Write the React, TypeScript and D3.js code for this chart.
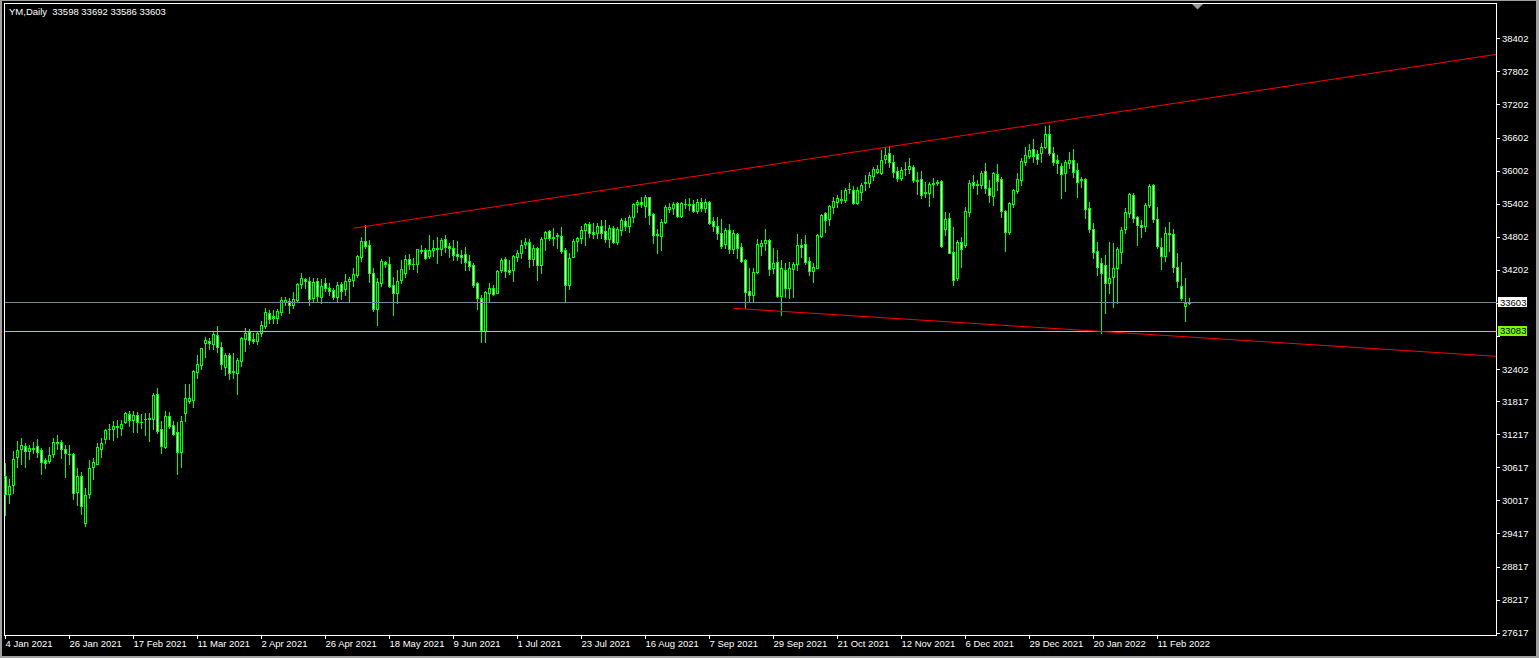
import { useEffect, useRef } from 'react';
import * as d3 from "d3";

// YM daily candles, 4 Jan 2021 .. 22 Feb 2022
const opens = [
    30465, 30128, 30297, 30799, 30944, 30999, 30919, 30950, 30999, 30926,
    30750, 30738, 30854, 31077, 31071, 30944, 30859, 30859, 30175, 30460,
    29613, 30128, 30618, 30678, 30950, 31126, 31313, 31318, 31349, 31336,
    31445, 31585, 31476, 31567, 31440, 31500, 31494, 31489, 31948, 31307,
    30992, 31548, 31385, 31253, 30896, 31600, 31827, 31845, 32353, 32474,
    32878, 32910, 32855, 33019, 32795, 32444, 32655, 32365, 32335, 32552,
    32951, 33067, 32940, 32915, 33049, 33181, 33412, 33363, 33333, 33441,
    33623, 33635, 33562, 33654, 33938, 34029, 33993, 33695, 33993, 33714,
    33956, 33877, 33835, 33714, 33938, 33847, 33993, 34016, 34107, 34440,
    34719, 34652, 34138, 33485, 33956, 34343, 34301, 33926, 33775, 34016,
    34138, 34392, 34301, 34301, 34543, 34555, 34452, 34561, 34579, 34573,
    34755, 34628, 34591, 34483, 34464, 34483, 34361, 34289, 33956, 33695,
    33091, 33775, 33866, 33775, 34198, 34392, 34198, 34198, 34440, 34500,
    34664, 34700, 34392, 34591, 34283, 34773, 34906, 34791, 34815, 34821,
    34561, 33926, 34428, 34730, 34773, 34924, 35032, 34882, 34875, 34990,
    34900, 34755, 34954, 34700, 34924, 35093, 34990, 35165, 35390, 35432,
    35359, 35517, 35214, 34846, 34820, 35063, 35310, 35329, 35408, 35183,
    35395, 35390, 35390, 35274, 35432, 35323, 35426, 35087, 35002, 34864,
    34664, 34924, 34585, 34846, 34610, 34379, 33817, 33744, 34156, 34639,
    34693, 34742, 34240, 34338, 33732, 34198, 33877, 34211, 34301, 34652,
    34664, 34361, 34185, 34240, 34820, 35227, 35118, 35347, 35437, 35481,
    35468, 35668, 35650, 35419, 35619, 35782, 35782, 35909, 35982, 35963,
    36206, 36315, 36163, 35994, 35862, 36036, 36025, 36072, 35831, 35843,
    35613, 35600, 35758, 35776, 35813, 34936, 35136, 34530, 34058, 34700,
    34652, 35256, 35795, 35753, 35740, 36000, 35680, 35546, 35934, 35849,
    35269, 34893, 35390, 35631, 35831, 36163, 36266, 36388, 36297, 36315,
    36424, 36660, 36315, 36194, 36085, 35952, 36134, 36194, 36012, 35854,
    35843, 35317, 34936, 34548, 34330, 34289, 33956, 34077, 34228, 34530,
    34936, 35227, 35554, 35154, 35014, 35002, 35377, 35740, 35118, 34621,
    34458, 34875, 34846, 34247, 33908, 33550, 33598,
];
const highs = [
    30701, 30400, 30914, 31095, 31150, 31053, 31023, 31071, 31126, 30963,
    30792, 30981, 31155, 31208, 31113, 31028, 31028, 30883, 30600, 30538,
    30237, 30750, 30792, 31064, 31155, 31318, 31398, 31458, 31476, 31476,
    31627, 31633, 31634, 31621, 31585, 31609, 31597, 31967, 32050, 31458,
    31639, 31627, 31458, 31445, 31548, 32123, 32129, 32383, 32655, 32788,
    32987, 32958, 33078, 33181, 32896, 32698, 32686, 32686, 32596, 32987,
    33151, 33122, 33049, 33078, 33272, 33503, 33472, 33472, 33485, 33713,
    33713, 33684, 33804, 33967, 34138, 34058, 34065, 34047, 34047, 34034,
    34047, 33956, 33877, 33986, 33986, 34125, 34065, 34228, 34470, 34791,
    35014, 34742, 34228, 34047, 34392, 34367, 34440, 34077, 34198, 34379,
    34470, 34483, 34422, 34588, 34652, 34603, 34833, 34751, 34802, 34772,
    34833, 34682, 34742, 34730, 34561, 34621, 34470, 34319, 33986, 33744,
    33823, 33956, 33926, 34198, 34410, 34440, 34379, 34470, 34561, 34742,
    34773, 34755, 34652, 34621, 34802, 34911, 34924, 34954, 34875, 34984,
    34591, 34501, 34755, 34802, 34996, 35057, 35075, 35045, 35045, 35105,
    35105, 35014, 34996, 34972, 35136, 35136, 35196, 35408, 35468, 35528,
    35559, 35528, 35238, 34936, 35117, 35377, 35419, 35437, 35437, 35437,
    35486, 35499, 35468, 35480, 35499, 35492, 35450, 35165, 35165, 35117,
    34954, 35033, 34924, 34864, 34682, 34397, 34228, 34228, 34760, 34742,
    34936, 34755, 34602, 34561, 34379, 34330, 34349, 34349, 34851, 34755,
    34833, 34440, 34319, 34846, 35214, 35256, 35377, 35528, 35559, 35650,
    35680, 35782, 35722, 35709, 35782, 35921, 35982, 36072, 36103, 36375,
    36435, 36424, 36285, 36061, 36061, 36163, 36225, 36103, 35982, 35994,
    35800, 35800, 35861, 35831, 35831, 35256, 35227, 34972, 34742, 34802,
    35347, 35831, 35921, 35831, 35994, 36134, 35831, 35981, 36121, 35891,
    35287, 35437, 35667, 35952, 36225, 36424, 36479, 36575, 36375, 36508,
    36816, 36829, 36435, 36285, 36134, 36194, 36344, 36393, 36134, 35891,
    35873, 35426, 35045, 34712, 34410, 34470, 34712, 34682, 34621, 34984,
    35317, 35600, 35590, 35178, 35105, 35408, 35758, 35758, 35347, 34773,
    34972, 35075, 34936, 34501, 34349, 34047, 33692,
];
const lows = [
    29752, 29976, 30157, 30629, 30678, 30629, 30774, 30872, 30810, 30496,
    30611, 30701, 30799, 30944, 30792, 30447, 30672, 30043, 29934, 29765,
    29553, 30066, 30406, 30678, 30810, 31053, 31126, 31113, 31173, 31209,
    31427, 31367, 31264, 31253, 31331, 31198, 31101, 31318, 31235, 30872,
    30963, 31325, 31204, 30502, 30629, 31450, 31790, 31718, 32232, 32396,
    32625, 32764, 32764, 32715, 32396, 32299, 32220, 32233, 31948, 32456,
    32733, 32855, 32868, 32850, 33006, 33140, 33231, 33231, 33231, 33381,
    33562, 33423, 33503, 33623, 33866, 33866, 33562, 33611, 33611, 33605,
    33817, 33744, 33666, 33623, 33672, 33744, 33635, 33908, 34076, 34361,
    34602, 33980, 33454, 33200, 33913, 34258, 33884, 33381, 33594, 33956,
    34076, 34216, 34216, 34167, 34513, 34397, 34420, 34458, 34319, 34470,
    34530, 34428, 34379, 34379, 34319, 34198, 34198, 33884, 33490, 32887,
    32896, 33623, 33744, 33775, 34167, 34065, 34125, 33998, 34367, 34410,
    34591, 34258, 34289, 34016, 34138, 34561, 34742, 34652, 34591, 34512,
    33623, 33847, 34428, 34549, 34693, 34652, 34791, 34773, 34773, 34773,
    34712, 34609, 34682, 34664, 34833, 34924, 34893, 35075, 35256, 35347,
    35154, 35033, 34682, 34501, 34561, 35045, 35256, 35214, 35154, 35154,
    35318, 35287, 35245, 35227, 35274, 35256, 35033, 34911, 34760, 34591,
    34591, 34512, 34501, 34410, 34349, 33503, 33611, 33611, 34138, 34470,
    34561, 34107, 34138, 33713, 33381, 33713, 33684, 33702, 34198, 34440,
    34301, 34107, 33986, 34228, 34802, 34893, 35014, 35227, 35347, 35408,
    35438, 35590, 35396, 35396, 35468, 35650, 35710, 35831, 35952, 35940,
    36145, 36061, 35891, 35818, 35831, 35921, 35952, 35800, 35577, 35499,
    35528, 35359, 35517, 35740, 34610, 34833, 34501, 33926, 34016, 34247,
    34621, 35178, 35680, 35577, 35680, 35590, 35437, 35377, 35650, 35165,
    34548, 34851, 35347, 35600, 35740, 36103, 36225, 36163, 36121, 36163,
    36406, 36285, 36103, 35952, 35510, 35631, 36043, 35891, 35517, 35710,
    35136, 34893, 34410, 34107, 33050, 33423, 33775, 33527, 33600, 34319,
    34875, 35165, 35075, 34652, 34802, 34911, 35347, 35075, 34591, 34211,
    34367, 34548, 34167, 33895, 33654, 33278, 33586,
];
const closes = [
    30133, 30279, 30763, 30926, 31017, 30908, 30963, 30968, 30896, 30709,
    30690, 30841, 31071, 31059, 30944, 30872, 30854, 30157, 30460, 29921,
    30115, 30600, 30709, 30981, 31053, 31295, 31320, 31367, 31367, 31404,
    31597, 31476, 31567, 31445, 31434, 31489, 31512, 31936, 31282, 31004,
    31548, 31372, 31228, 30896, 31458, 31870, 31881, 32365, 32486, 32777,
    32928, 32868, 33037, 32795, 32498, 32655, 32335, 32342, 32565, 32958,
    33049, 32928, 32915, 33049, 33200, 33430, 33309, 33333, 33454, 33654,
    33654, 33562, 33672, 33944, 34047, 33993, 33672, 33975, 33721, 33902,
    33871, 33811, 33714, 33920, 33817, 33993, 34034, 34120, 34452, 34719,
    34639, 34138, 33485, 33975, 34361, 34301, 33908, 33786, 34004, 34211,
    34392, 34301, 34310, 34574, 34561, 34420, 34561, 34603, 34591, 34742,
    34609, 34591, 34470, 34458, 34440, 34349, 34276, 33926, 33695, 33109,
    33793, 33866, 33762, 34180, 34379, 34185, 34167, 34452, 34512, 34652,
    34712, 34392, 34591, 34283, 34760, 34882, 34773, 34773, 34839, 34549,
    33926, 34422, 34730, 34779, 34924, 35027, 34864, 34846, 34996, 34864,
    34755, 34960, 34712, 34936, 35105, 34990, 35154, 35390, 35437, 35401,
    35517, 35201, 34838, 34833, 35063, 35336, 35341, 35395, 35183, 35408,
    35390, 35383, 35269, 35432, 35329, 35432, 35056, 34990, 34864, 34639,
    34924, 34585, 34864, 34603, 34367, 33804, 33744, 34156, 34664, 34688,
    34742, 34210, 34320, 33732, 34228, 33877, 34228, 34307, 34652, 34621,
    34349, 34180, 34258, 34833, 35196, 35105, 35359, 35450, 35510, 35468,
    35650, 35673, 35419, 35650, 35740, 35800, 35921, 36030, 36030, 36194,
    36285, 36163, 35982, 35862, 36012, 36025, 36085, 35831, 35818, 35559,
    35600, 35758, 35782, 35789, 34633, 35123, 34512, 34016, 34700, 34573,
    35269, 35782, 35735, 35735, 35963, 35680, 35559, 35963, 35813, 35274,
    34893, 35408, 35650, 35844, 36176, 36285, 36375, 36266, 36217, 36424,
    36666, 36315, 36163, 36134, 35934, 36152, 36194, 35982, 35800, 35831,
    35299, 34936, 34530, 34247, 34149, 33956, 34047, 34228, 34573, 34924,
    35256, 35577, 35136, 35014, 34972, 35377, 35722, 35118, 34633, 34458,
    34864, 34846, 34247, 34004, 33684, 33605, 33603,
];

// bottom axis: one label every 16 bars
const dateLabelBars = [0, 16, 32, 48, 64, 80, 96, 112, 128, 144, 160, 176, 192, 208, 224, 240, 256, 272, 288];
const dateLabels = [
    "4 Jan 2021", "26 Jan 2021", "17 Feb 2021", "11 Mar 2021", "2 Apr 2021", "26 Apr 2021",
    "18 May 2021", "9 Jun 2021", "1 Jul 2021", "23 Jul 2021", "16 Aug 2021", "7 Sep 2021",
    "29 Sep 2021", "21 Oct 2021", "12 Nov 2021", "6 Dec 2021", "29 Dec 2021", "20 Jan 2022", "11 Feb 2022",
];
const priceTicks = [
    38402, 37802, 37202, 36602, 36002, 35402, 34802, 34202, 33602, 33002,
    32402, 31817, 31217, 30617, 30017, 29417, 28817, 28217, 27617,
];
// ticks whose labels sit under the price boxes
const hiddenTicks = [33602, 33002];

const bidPrice = 33603;
const levelPrice = 33083;
// trend lines: [bar, price] anchors, extended to the right edge
const upperTrend = [[87, 34955], [260, 36865]];
const lowerTrend = [[182, 33503], [274, 33083]];
const header = "YM,Daily  33598 33692 33586 33603";

const FONT = "'Liberation Sans', Arial, sans-serif";

const App: React.FC = () => {
    const chartRef = useRef<SVGSVGElement | null>(null);

    useEffect(() => {
        if (!chartRef.current) return;

        const width = 1539;
        const height = 658;
        const plot = { left: 4.5, top: 3.5, right: 1496.5, bottom: 635.5 };

        const svg = d3.select(chartRef.current)
            .attr("width", width)
            .attr("height", height);
        svg.selectAll("*").remove();

        // 배경
        svg.append("rect").attr("width", width).attr("height", height).attr("fill", "#a0a0a0");
        svg.append("rect").attr("x", 2).attr("y", 1).attr("width", width - 5).attr("height", height - 3).attr("fill", "#000");

        const yScale = d3.scaleLinear().domain([27617, 38402]).range([632.7, 38.3]);
        const xScale = d3.scaleLinear().domain([0, 1]).range([5, 9]);

        // 오른쪽 가격축
        const yAxis = svg.append("g")
            .attr("transform", `translate(${plot.right - 0.5}, 0)`)
            .call(d3.axisRight(yScale).tickValues(priceTicks).tickSize(4).tickSizeOuter(0).tickPadding(2)
                .tickFormat(d => hiddenTicks.includes(+d) ? "" : `${d}`));
        yAxis.select(".domain").remove();
        yAxis.attr("color", "#fff").attr("font-family", FONT).attr("font-size", 9.5);
        yAxis.selectAll("line").attr("shape-rendering", "crispEdges");

        // 아래 날짜축
        const xAxis = svg.append("g")
            .attr("transform", `translate(0, ${plot.bottom - 0.5})`)
            .call(d3.axisBottom(xScale).tickValues(dateLabelBars).tickSize(4).tickSizeOuter(0)
                .tickFormat((_, i) => dateLabels[i]));
        xAxis.select(".domain").remove();
        xAxis.attr("color", "#fff").attr("font-family", FONT).attr("font-size", 9.5);
        xAxis.selectAll("line").attr("shape-rendering", "crispEdges");
        xAxis.selectAll("text").attr("text-anchor", "start").attr("x", 0).attr("y", 5.5);

        // 프레임
        svg.append("rect")
            .attr("x", plot.left).attr("y", plot.top)
            .attr("width", plot.right - plot.left).attr("height", plot.bottom - plot.top)
            .attr("fill", "none").attr("stroke", "#fff").attr("shape-rendering", "crispEdges");

        const chart = svg.append("g");

        // 캔들
        opens.forEach((o, i) => {
            const c = closes[i];
            const hi = Math.max(highs[i], o, c);
            const lo = Math.min(lows[i], o, c);
            const cx = xScale(i) + 0.5;
            chart.append("line")
                .attr("x1", cx).attr("x2", cx)
                .attr("y1", Math.round(yScale(hi))).attr("y2", Math.round(yScale(lo)) + 1)
                .attr("stroke", "#00ff00").attr("shape-rendering", "crispEdges");
            const top = Math.round(yScale(Math.max(o, c)));
            const bot = Math.round(yScale(Math.min(o, c)));
            if (bot - top < 1) {
                chart.append("line")
                    .attr("x1", cx - 1.5).attr("x2", cx + 1.5)
                    .attr("y1", top + 0.5).attr("y2", top + 0.5)
                    .attr("stroke", "#00ff00").attr("shape-rendering", "crispEdges");
            } else {
                chart.append("rect")
                    .attr("x", cx - 1).attr("y", top + 0.5)
                    .attr("width", 2).attr("height", bot - top)
                    .attr("fill", c >= o ? "#000" : "#fff")
                    .attr("stroke", "#00ff00").attr("shape-rendering", "crispEdges");
            }
        });

        // 수평선
        const bidY = Math.floor(yScale(bidPrice)) + 0.5;
        const levelY = Math.floor(yScale(levelPrice)) + 0.5;
        svg.append("line").attr("x1", plot.left).attr("x2", plot.right).attr("y1", bidY).attr("y2", bidY)
            .attr("stroke", "#778899").attr("shape-rendering", "crispEdges");
        svg.append("line").attr("x1", plot.left).attr("x2", plot.right).attr("y1", levelY).attr("y2", levelY)
            .attr("stroke", "#7cfc00").attr("shape-rendering", "crispEdges");

        // 추세선
        const endBar = xScale.invert(plot.right - 0.5);
        [upperTrend, lowerTrend].forEach(([[b1, p1], [b2, p2]]) => {
            const slope = (p2 - p1) / (b2 - b1);
            const priceAt = (b: number) => p1 + (b - b1) * slope;
            svg.append("line")
                .attr("x1", xScale(b1) + 0.5).attr("y1", yScale(p1))
                .attr("x2", xScale(endBar)).attr("y2", yScale(priceAt(endBar)))
                .attr("stroke", "#ff0000").attr("stroke-width", 1);
        });

        // 가격 라벨
        const priceBox = (value: number, bg: string) => {
            const yc = yScale(value) - 0.5;
            svg.append("rect")
                .attr("x", 1498).attr("y", yc - 5).attr("width", 29).attr("height", 10)
                .attr("fill", bg).attr("shape-rendering", "crispEdges");
            svg.append("text")
                .attr("x", 1500).attr("y", yc).attr("dy", "0.34em")
                .attr("font-family", FONT).attr("font-size", 9.5)
                .attr("fill", "#000").text(`${value}`);
        };
        priceBox(bidPrice, "#fff");
        priceBox(levelPrice, "#7cfc00");

        // 헤더
        svg.append("text")
            .attr("x", 9).attr("y", 14.5)
            .attr("font-family", FONT).attr("font-size", 9.5)
            .attr("fill", "#fff").attr("xml:space", "preserve")
            .style("white-space", "pre")
            .text(header);

        // 차트 시프트 표시
        svg.append("path")
            .attr("d", "M1192,4 L1203,4 L1197.5,9.5 Z")
            .attr("fill", "#9a9a9a");
    }, []);

    return (
        <svg ref={chartRef} style={{ position: "absolute", left: 0, top: 0, display: "block" }}></svg>
    );
};

export default App;
